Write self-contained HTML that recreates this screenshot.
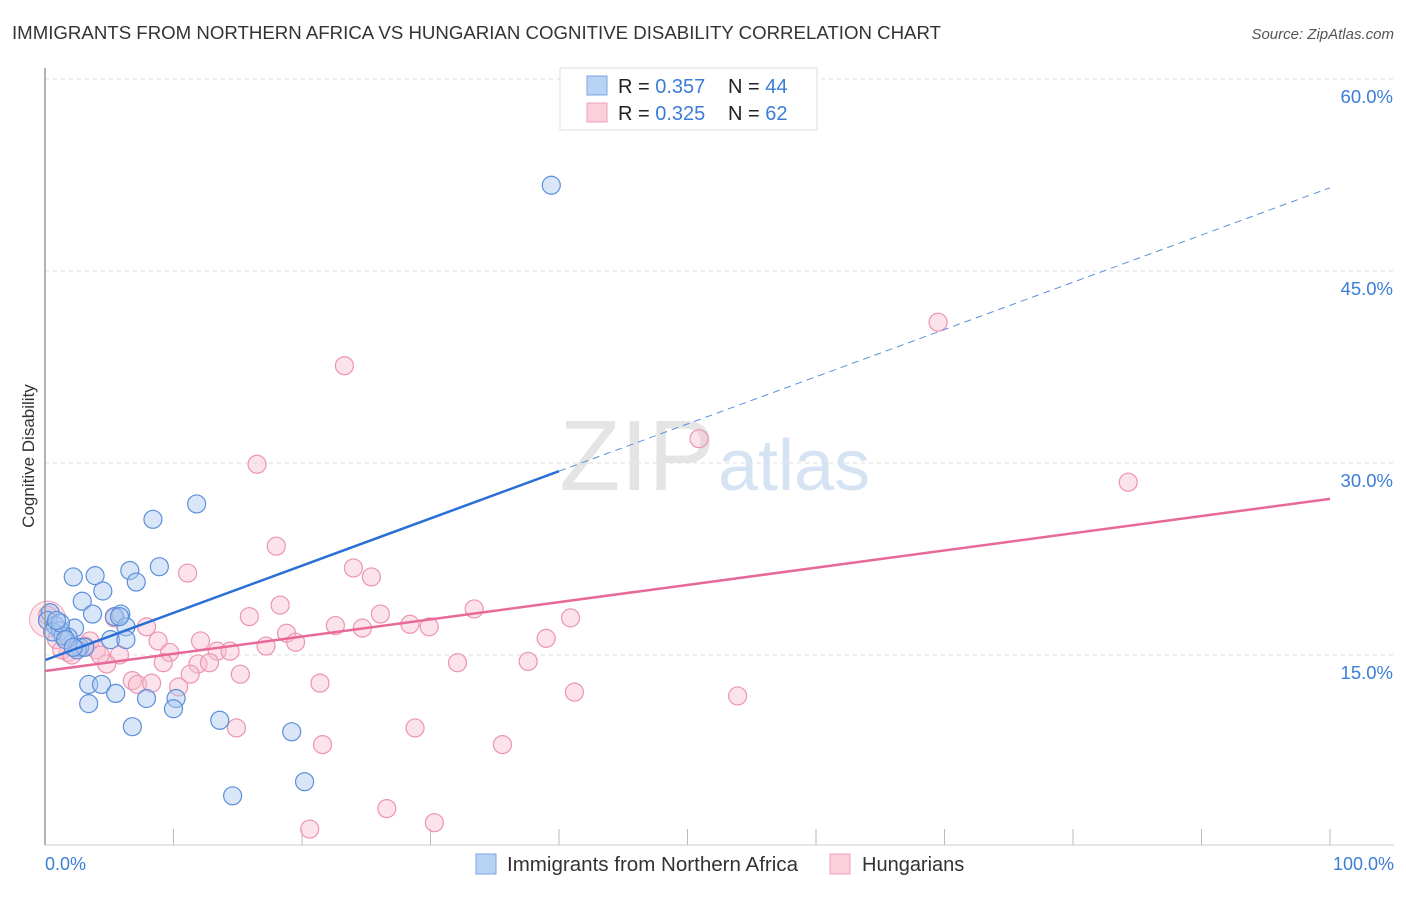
<!DOCTYPE html>
<html><head><meta charset="utf-8"><style>
body{margin:0;background:#fff;font-family:"Liberation Sans",sans-serif;}
svg text{font-family:"Liberation Sans",sans-serif;}
</style></head><body>
<svg width="1406" height="892" viewBox="0 0 1406 892" xmlns="http://www.w3.org/2000/svg">
<text x="12" y="39" font-size="18.5" fill="#333" textLength="929" lengthAdjust="spacingAndGlyphs">IMMIGRANTS FROM NORTHERN AFRICA VS HUNGARIAN COGNITIVE DISABILITY CORRELATION CHART</text>
<text x="1394" y="39" font-size="15" fill="#555" font-style="italic" text-anchor="end">Source: ZipAtlas.com</text>
<text x="34" y="456" font-size="17" fill="#333" text-anchor="middle" transform="rotate(-90 34 456)">Cognitive Disability</text>
<g id="grid"></g>
<text x="715" y="490" font-size="100" fill="#e4e4e4" text-anchor="end" font-family="Liberation Serif">ZIP</text>
<text x="718" y="490" font-size="72" fill="#d6e3f3">atlas</text>
<g id="pts"></g>
<g id="lines"></g>
<line x1="45" y1="68" x2="45" y2="845" stroke="#999" stroke-width="1.5"/>
<line x1="45" y1="845" x2="1394" y2="845" stroke="#ccc" stroke-width="1"/>
<text x="45" y="870" font-size="18" fill="#3b7dd8">0.0%</text>
<text x="1394" y="870" font-size="18" fill="#3b7dd8" text-anchor="end">100.0%</text>
<g>
<rect x="560" y="68" width="257" height="62" fill="#fff" stroke="#ddd"/>
<rect x="587" y="76" width="20" height="19" fill="#b9d3f5" stroke="#7aa6e0"/>
<rect x="587" y="103" width="20" height="19" fill="#fbd0dc" stroke="#efa0b6"/>
<text x="618" y="93" font-size="20" fill="#222">R = <tspan fill="#3b7dd8">0.357</tspan></text>
<text x="728" y="93" font-size="20" fill="#222">N = <tspan fill="#3b7dd8">44</tspan></text>
<text x="618" y="120" font-size="20" fill="#222">R = <tspan fill="#3b7dd8">0.325</tspan></text>
<text x="728" y="120" font-size="20" fill="#222">N = <tspan fill="#3b7dd8"> 62</tspan></text>
</g>
<g>
<rect x="476" y="854" width="20" height="20" fill="#b9d3f5" stroke="#7aa6e0"/>
<text x="507" y="871" font-size="20" fill="#333" textLength="291" lengthAdjust="spacingAndGlyphs">Immigrants from Northern Africa</text>
<rect x="830" y="854" width="20" height="20" fill="#fbd0dc" stroke="#efa0b6"/>
<text x="862" y="871" font-size="20" fill="#333">Hungarians</text>
</g>
</svg>
<script>
const yTicks=[15,30,45,60];
const yTickLabels=["15.0%","30.0%","45.0%","60.0%"];
const xTickVals=[10,20,30,40,50,60,70,80,90,100];
const blueX=[39.4,11.8,8.4,8.9,6.6,2.2,3.9,7.1,4.5,2.9,5.9,5.4,3.7,6.3,2.3,0.4,0.2,0.8,1.2,1.8,1.4,0.6,5.1,6.3,2.7,2.5,3.4,4.4,5.5,3.4,7.9,10.2,10.0,13.6,6.8,19.2,20.2,14.6,1.2,1.6,3.1,2.2,5.8,0.9];
const blueY=[51.7,26.8,25.6,21.9,21.6,21.1,21.2,20.7,20.0,19.2,18.2,18.0,18.2,17.2,17.1,18.3,17.7,17.3,16.9,16.4,16.5,16.8,16.2,16.2,15.6,15.4,12.7,12.7,12.0,11.2,11.6,11.6,10.8,9.9,9.4,9.0,5.1,4.0,17.5,16.2,15.6,15.6,18.0,17.7];
const pinkX=[69.5,23.3,50.9,16.5,84.3,18.0,11.1,24.0,25.4,18.3,15.9,26.1,33.4,40.9,7.9,22.6,24.7,28.4,29.9,18.8,5.4,3.5,8.8,12.1,17.2,19.5,39.0,13.4,14.4,9.7,4.0,2.5,1.8,5.8,4.8,9.2,11.9,12.8,32.1,37.6,11.3,15.2,6.8,7.2,8.3,10.4,21.4,41.2,53.9,14.9,28.8,21.6,35.6,26.6,30.3,20.6,0.2,0.9,1.3,4.3,3.1,2.1];
const pinkY=[41.0,37.6,31.9,29.9,28.5,23.5,21.4,21.8,21.1,18.9,18.0,18.2,18.6,17.9,17.2,17.3,17.1,17.4,17.2,16.7,17.9,16.1,16.1,16.1,15.7,16.0,16.3,15.3,15.3,15.2,15.4,15.6,15.2,15.0,14.3,14.4,14.3,14.4,14.4,14.5,13.5,13.5,13.0,12.7,12.8,12.5,12.8,12.1,11.8,9.3,9.3,8.0,8.0,3.0,1.9,1.4,18.1,16.2,15.4,15.0,15.7,15.0];
const blueTrend=[14.6,51.5];
const pinkTrend=[13.75,27.2];
const X=v=>45+v*12.85, Y=v=>847-v*12.8;
const NS="http://www.w3.org/2000/svg";
function mk(t,a,p){const e=document.createElementNS(NS,t);for(const k in a)e.setAttribute(k,a[k]);p.appendChild(e);return e;}
const grid=document.getElementById('grid');
yTicks.forEach((v,i)=>{
 const l=mk('line',{x1:45,y1:Y(v),x2:1394,y2:Y(v),stroke:'#ddd','stroke-dasharray':'4,4'},grid);
 
 
 const t=mk('text',{x:1393,y:Y(v)+24,'font-size':18.5,fill:'#3b7dd8','text-anchor':'end'},grid);
 t.textContent=yTickLabels[i];
 
 
});
xTickVals.forEach(v=>{
 const l=mk('line',{x1:X(v),y1:829,x2:X(v),y2:845,stroke:'#bbb'},grid);
 
 
});
const pts=document.getElementById('pts');
mk('circle',{cx:X(0.2),cy:Y(17.8),r:18,fill:'#fbd0dc','fill-opacity':0.5,stroke:'#efa0b6'},pts);
pinkX.forEach((x,i)=>{
 const c=mk('circle',{cx:X(x),cy:Y(pinkY[i]),r:9,fill:'#f8bfd0','fill-opacity':0.45,stroke:'#ec95b0','stroke-width':1.2},pts);
 
 
});
blueX.forEach((x,i)=>{
 const c=mk('circle',{cx:X(x),cy:Y(blueY[i]),r:9,fill:'#a9c8f0','fill-opacity':0.45,stroke:'#5b8fdb','stroke-width':1.2},pts);
 
 
});
const lines=document.getElementById('lines');
const bAt=x=>blueTrend[0]+(blueTrend[1]-blueTrend[0])*x/100;
let l1=mk('line',{x1:X(0),y1:Y(bAt(0)),x2:X(40),y2:Y(bAt(40)),stroke:'#2a6fd6','stroke-width':2.5},lines);


let l2=mk('line',{x1:X(40),y1:Y(bAt(40)),x2:X(100),y2:Y(bAt(100)),stroke:'#5b8fdb','stroke-width':1,'stroke-dasharray':'7,5'},lines);


let l3=mk('line',{x1:X(0),y1:Y(pinkTrend[0]),x2:X(100),y2:Y(pinkTrend[1]),stroke:'#e8689a','stroke-width':2.5},lines);


</script>
</body></html>
